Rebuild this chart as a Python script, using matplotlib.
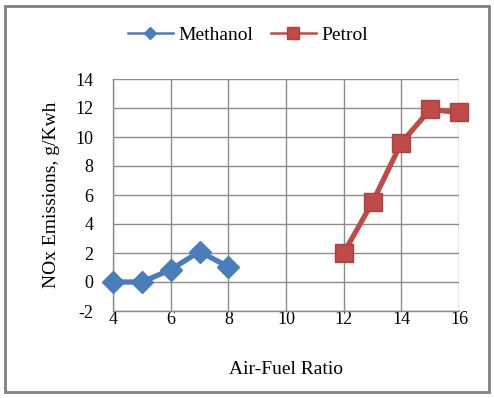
import matplotlib
matplotlib.use("Agg")
import matplotlib.pyplot as plt
from matplotlib.patches import Rectangle
from matplotlib.lines import Line2D

methanol_x = [4, 5, 6, 7, 8]
methanol_y = [0.0, 0.0, 0.85, 2.1, 1.05]
petrol_x = [12, 13, 14, 15, 16]
petrol_y = [2.0, 5.5, 9.6, 11.9, 11.7]
x_ticks = [4, 6, 8, 10, 12, 14, 16]
y_ticks = [-2, 0, 2, 4, 6, 8, 10, 12, 14]

plt.rcParams['font.family'] = ['Liberation Serif', 'DejaVu Serif']
plt.rcParams['axes.unicode_minus'] = False

W, H = 494, 398
fig = plt.figure(figsize=(W / 100, H / 100), dpi=100)
fig.patch.set_facecolor('white')

# outer border
fig.add_artist(Rectangle((5 / W, 1 - 392 / H), 484 / W, 386 / H, transform=fig.transFigure,
                         fill=False, edgecolor='#808080', linewidth=2))

left, right, top, bottom = 113, 459, 79, 311
ax = fig.add_axes([left / W, 1 - bottom / H, (right - left) / W, (bottom - top) / H])

blue = '#4A7EBB'
red = '#BE4B48'
ax.plot(methanol_x, methanol_y, color=blue, linewidth=3.8, marker='D', markersize=11,
        markerfacecolor=blue, markeredgecolor=blue, zorder=3, clip_on=False)
ax.plot(petrol_x, petrol_y, color=red, linewidth=3.8, marker='s', markersize=12.5,
        markerfacecolor=red, markeredgecolor='#B04040', zorder=3, clip_on=False)

ax.set_xlim(4, 16)
ax.set_ylim(-2, 14)
ax.set_xticks(x_ticks)
ax.set_yticks(y_ticks)
ax.grid(True, color='#8C8C8C', linewidth=1)
ax.set_axisbelow(True)
for s in ['top', 'right']:
    ax.spines[s].set_visible(False)
for s in ['left', 'bottom']:
    ax.spines[s].set_color('#8C8C8C')
    ax.spines[s].set_linewidth(1)
ax.tick_params(axis='both', labelcolor='black', labelsize=13, length=0)
ax.tick_params(axis='x', pad=0)
ax.tick_params(axis='y', pad=14)

ax.set_xlabel('Air-Fuel Ratio', fontsize=14, labelpad=24)
ax.set_ylabel('NOx Emissions, g/Kwh', fontsize=14, labelpad=11)

handles = [
    Line2D([], [], color=blue, linewidth=1.8, marker='D', markersize=6,
           markerfacecolor=blue, markeredgecolor=blue),
    Line2D([], [], color=red, linewidth=1.8, marker='s', markersize=8,
           markerfacecolor=red, markeredgecolor='#B04040'),
]
fig.legend(handles, ['Methanol', 'Petrol'], loc='center', bbox_to_anchor=(248 / W, 1 - 35 / H),
           ncol=2, frameon=False, fontsize=14, handlelength=2.3, columnspacing=0.9,
           handletextpad=0.3)

fig.savefig('out.png', dpi=100, facecolor='white')
